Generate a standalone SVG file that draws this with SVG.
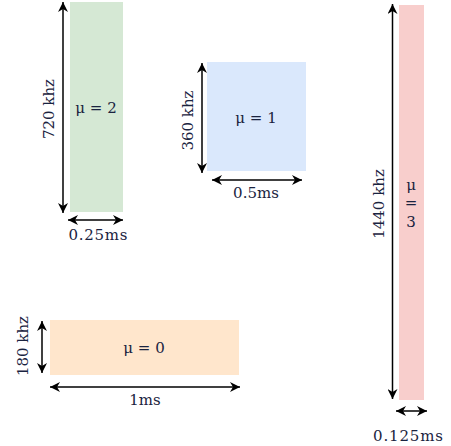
<svg xmlns="http://www.w3.org/2000/svg" width="451" height="446" viewBox="0 0 451 446">
<style>
text{font-family:"DejaVu Serif","Liberation Serif",serif;font-size:15px;fill:#1a2340;text-anchor:middle}
.dim{stroke:#000;stroke-width:1.5;fill:none;marker-start:url(#ah);marker-end:url(#ah)}
</style>
<defs>
<marker id="ah" markerUnits="userSpaceOnUse" viewBox="0 0 10 10" refX="10" refY="5" markerWidth="10" markerHeight="10" orient="auto-start-reverse">
<path d="M0,0 L10,5 L0,10 L3,5 Z" fill="#000"/>
</marker>
</defs>
<rect width="451" height="446" fill="#fff"/>
<g id="mu2">
<rect x="70" y="2" width="53" height="210" fill="#d5e8d4"/>
<text x="96" y="113">μ = 2</text>
</g>
<g id="mu1">
<rect x="207" y="62" width="99" height="109" fill="#dae8fc"/>
<text x="256" y="123">μ = 1</text>
</g>
<g id="mu3">
<rect x="399" y="5" width="25" height="395" fill="#f8cecc"/>
<text x="411" y="190">μ</text>
<text x="411" y="208">=</text>
<text x="411" y="227">3</text>
</g>
<g id="mu0">
<rect x="50" y="320" width="189" height="55" fill="#ffe6cc"/>
<text x="144" y="353">μ = 0</text>
</g>
<g id="connectors">
<line class="dim" x1="63" y1="2" x2="63" y2="213"/>
<line class="dim" x1="68" y1="220" x2="123" y2="220"/>
<line class="dim" x1="202" y1="63" x2="202" y2="173"/>
<line class="dim" x1="212" y1="180" x2="302" y2="180"/>
<line class="dim" x1="392.5" y1="4" x2="392.5" y2="399"/>
<line class="dim" x1="396" y1="411" x2="427" y2="411"/>
<line class="dim" x1="42" y1="321" x2="42" y2="373"/>
<line class="dim" x1="50" y1="387" x2="240" y2="387"/>
</g>
<g id="labels">
<text transform="translate(54,109) rotate(-90)">720 khz</text>
<text x="98" y="240" textLength="59" lengthAdjust="spacing">0.25ms</text>
<text transform="translate(193,120.5) rotate(-90)">360 khz</text>
<text x="256" y="198">0.5ms</text>
<text transform="translate(384,204) rotate(-90)">1440 khz</text>
<text x="408" y="441" textLength="70" lengthAdjust="spacing">0.125ms</text>
<text transform="translate(28,346) rotate(-90)">180 khz</text>
<text x="145" y="405">1ms</text>
</g>
</svg>
